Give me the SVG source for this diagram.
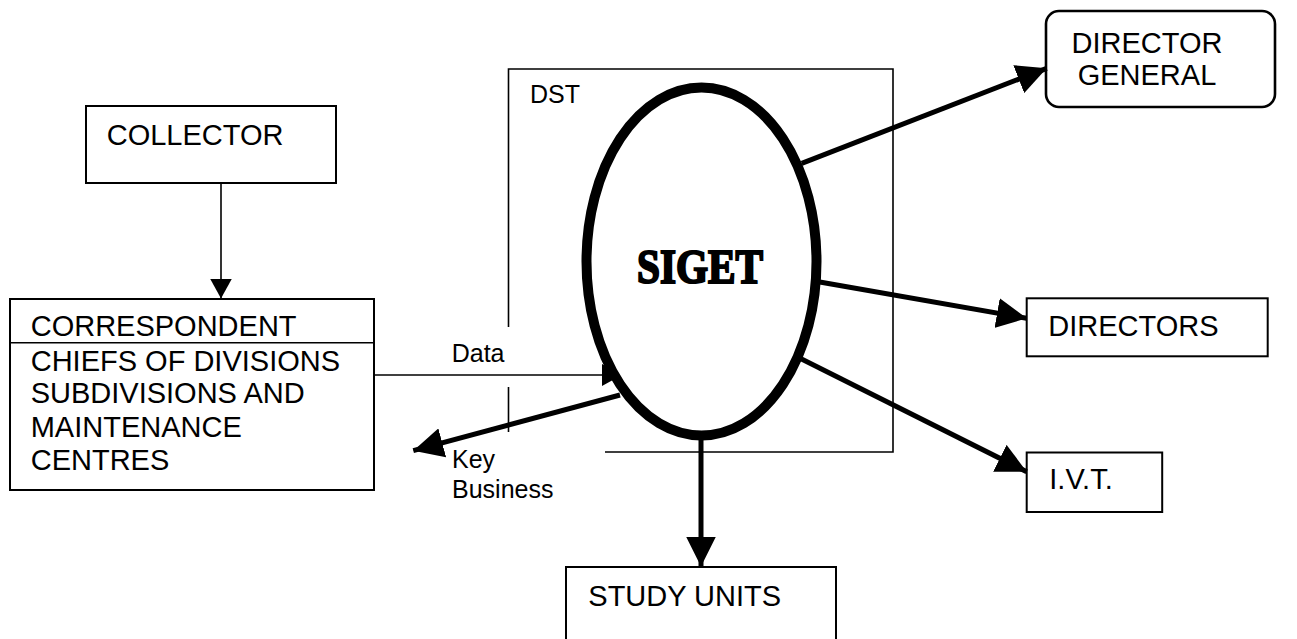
<svg xmlns="http://www.w3.org/2000/svg" width="1297" height="639" viewBox="0 0 1297 639">
<style>
.box{fill:#fff;stroke:#000;stroke-width:2}
.thin{fill:none;stroke:#000;stroke-width:1.6}
.thick{fill:none;stroke:#000;stroke-width:5}
.t{font-family:"Liberation Sans",Arial,sans-serif;font-size:29px;fill:#000}
.s{font-family:"Liberation Sans",Arial,sans-serif;font-size:25px;fill:#000}
</style>
<defs>
<marker id="big" markerUnits="userSpaceOnUse" markerWidth="30" markerHeight="30" refX="30" refY="15" orient="auto" viewBox="0 0 30 30"><path d="M0,0 L30,15 L0,30 z" fill="#000"/></marker>
<marker id="small" markerUnits="userSpaceOnUse" markerWidth="20" markerHeight="22" refX="20" refY="11" orient="auto" viewBox="0 0 20 22"><path d="M0,0 L20,11 L0,22 z" fill="#000"/></marker>
</defs>
<rect width="1297" height="639" fill="#fff"/>
<g id="dst">
<path class="thin" d="M508.5,327 V69 H893 V452 H605 M508.5,387 V432"/>
<text class="s" x="530" y="102.7">DST</text>
</g>
<g id="collector">
<rect class="box" x="86" y="106" width="250" height="77"/>
<text class="t" x="106.7" y="145">COLLECTOR</text>
</g>
<g id="correspondent">
<rect class="box" x="10" y="299" width="364" height="191"/>
<line class="thin" x1="10" y1="342.7" x2="374" y2="342.7"/>
<text class="t" x="30.7" y="336">CORRESPONDENT</text>
<text class="t" x="30.7" y="370.7">CHIEFS OF DIVISIONS</text>
<text class="t" x="30.7" y="403">SUBDIVISIONS AND</text>
<text class="t" x="30.7" y="437">MAINTENANCE</text>
<text class="t" x="30.7" y="470">CENTRES</text>
</g>
<g id="director-general">
<rect class="box" x="1046" y="11" width="229" height="96" rx="13" ry="13" style="stroke-width:2.6"/>
<text class="t" x="1147" y="53.3" text-anchor="middle">DIRECTOR</text>
<text class="t" x="1147" y="85" text-anchor="middle">GENERAL</text>
</g>
<g id="directors">
<rect class="box" x="1026.7" y="298.3" width="241" height="58"/>
<text class="t" x="1048.3" y="336">DIRECTORS</text>
</g>
<g id="ivt">
<rect class="box" x="1026.7" y="452.5" width="135.5" height="59.5"/>
<text class="t" x="1049.3" y="489">I.V.T.</text>
</g>
<g id="study-units">
<rect class="box" x="566" y="567" width="270" height="90"/>
<text class="t" x="588.3" y="605.5">STUDY UNITS</text>
</g>
<g id="connectors">
<line class="thin" x1="221" y1="183" x2="221" y2="298.5" marker-end="url(#small)"/>
<line class="thin" x1="374" y1="375" x2="622" y2="375" marker-end="url(#small)"/>
<text class="s" x="451.7" y="361.7">Data</text>
<line class="thick" x1="620" y1="395" x2="413.3" y2="450.7" marker-end="url(#big)"/>
<text class="s" x="452" y="468">Key</text>
<text class="s" x="452" y="498">Business</text>
<line class="thick" x1="801.7" y1="163.3" x2="1046.7" y2="68.3" marker-end="url(#big)"/>
<line class="thick" x1="818.3" y1="281.7" x2="1026.7" y2="318.3" marker-end="url(#big)"/>
<line class="thick" x1="800" y1="358.3" x2="1026.7" y2="471.7" marker-end="url(#big)"/>
<line class="thick" x1="701" y1="440" x2="701" y2="566.5" marker-end="url(#big)"/>
</g>
<g id="siget">
<ellipse cx="701.5" cy="261.5" rx="115" ry="174" fill="#fff" stroke="#000" stroke-width="10"/>
<text x="637" y="282.7" textLength="126" lengthAdjust="spacingAndGlyphs" style="font-family:'Liberation Serif','Times New Roman',serif;font-weight:bold;font-size:48px;fill:#000;stroke:#000;stroke-width:2.2">SIGET</text>
</g>
</svg>
